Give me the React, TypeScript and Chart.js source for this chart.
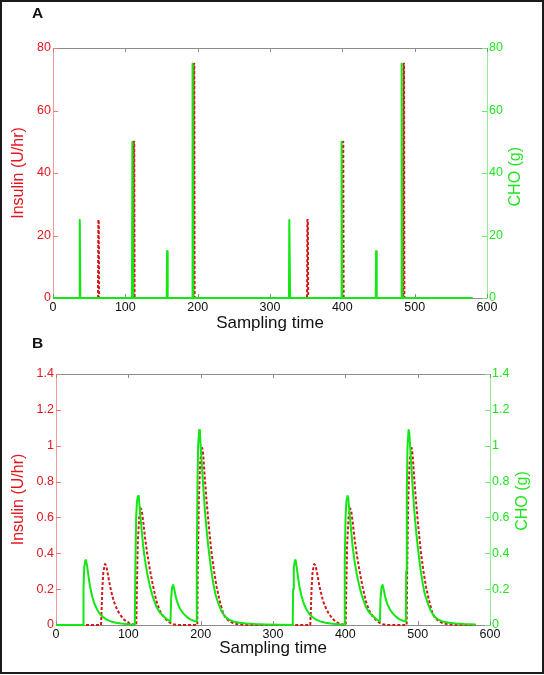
import React, { useEffect, useRef } from 'react';
import { Chart, registerables } from 'chart.js';

Chart.register(...registerables);

const FONT = "'Liberation Sans', Arial, Helvetica, sans-serif";
const RED_TEXT = '#e3161e';
const RED_LINE = '#d21a1a';
const GREEN_TEXT = '#1ee61e';
const GREEN_LINE = '#12e812';
const GREY = '#8c8c8c';

// ---------- shared x axis ----------
const xTicks = [0, 100, 200, 300, 400, 500, 600];

// ---------- Panel A : bolus inputs ----------
const choTimesA = [37, 110, 158, 193, 327, 399, 447, 482];
const choGramsA = [25, 50, 15, 75, 25, 50, 15, 75];
const insulinTimesA = [63, 112, 195, 352, 401, 485];
const insulinDoseA = [25, 50, 75, 25, 50, 75];
const endTimeA = 580;
const yTicksA = [0, 20, 40, 60, 80];
const yTickLabelsA = ['0', '20', '40', '60', '80'];

// ---------- Panel B : absorbed / delivered curves ----------
const yTicksB = [0, 0.2, 0.4, 0.6, 0.8, 1, 1.2, 1.4];
const yTickLabelsB = ['0', '0.2', '0.4', '0.6', '0.8', '1', '1.2', '1.4'];
const choCurveB: [number, number][] = [
  [0, 0], [37.5, 0], [38, 0.2], [39, 0.32], [40.5, 0.36], [41.5, 0.362], [43, 0.33], [45, 0.27],
  [47, 0.215], [50, 0.16], [53, 0.12], [57, 0.085], [61, 0.06], [65, 0.045], [70, 0.03], [76, 0.02],
  [83, 0.013], [90, 0.008], [100, 0.004], [109, 0.002],
  [109.8, 0.35], [110.8, 0.6], [112, 0.69], [113.5, 0.72], [114.5, 0.71], [116, 0.64], [118.4, 0.53],
  [120.5, 0.44], [123, 0.363], [126, 0.29], [129.9, 0.214], [134, 0.155], [139, 0.1], [143.5, 0.07],
  [148.3, 0.05], [153, 0.033], [158.3, 0.02],
  [159.2, 0.15], [160.5, 0.21], [162, 0.223], [163.5, 0.2], [166, 0.15], [169, 0.112], [172, 0.088],
  [175.9, 0.065], [180, 0.048], [185, 0.033], [190, 0.024], [194.2, 0.019],
  [194.6, 0.3], [195.5, 0.75], [196.5, 1.0], [198, 1.088], [199, 1.07], [200, 1.0], [201.3, 0.92],
  [203.6, 0.77], [206, 0.63], [208.2, 0.53], [210.5, 0.44], [212.8, 0.363], [215, 0.295], [217.4, 0.233],
  [220.5, 0.17], [224.3, 0.121], [228.5, 0.08], [233.5, 0.047], [239, 0.03], [245, 0.02], [254, 0.012],
  [263, 0.008], [275, 0.005], [290, 0.003], [310, 0.001], [327.3, 0],
  [327.8, 0.2], [328.8, 0.32], [330.3, 0.36], [331.2, 0.362], [332.5, 0.33], [334.5, 0.27], [336.5, 0.215],
  [339.5, 0.16], [342.5, 0.12], [346.5, 0.085], [350.5, 0.06], [354.5, 0.045], [359.5, 0.03], [365.5, 0.02],
  [372.5, 0.013], [379.5, 0.008], [389.5, 0.004], [398.8, 0.002],
  [399.2, 0.35], [400.3, 0.6], [401.5, 0.69], [403, 0.72], [404, 0.71], [405.5, 0.64], [408, 0.53],
  [410, 0.44], [412.5, 0.363], [415.5, 0.29], [419.5, 0.214], [423.5, 0.155], [428.5, 0.1], [433, 0.07],
  [438, 0.05], [442.5, 0.033], [447.8, 0.02],
  [448.7, 0.15], [450, 0.21], [451.5, 0.223], [453, 0.2], [455.5, 0.15], [458.5, 0.112], [461.5, 0.088],
  [465.5, 0.065], [469.5, 0.048], [474.5, 0.033], [479.5, 0.024], [483.7, 0.019],
  [484.1, 0.3], [485, 0.75], [486, 1.0], [487.5, 1.088], [488.5, 1.07], [489.5, 1.0], [490.8, 0.92],
  [493, 0.77], [495.5, 0.63], [497.7, 0.53], [500, 0.44], [502.3, 0.363], [504.5, 0.295], [507, 0.233],
  [510, 0.17], [514, 0.121], [518, 0.08], [523, 0.047], [528.5, 0.03], [534.5, 0.02], [543.5, 0.012],
  [552.5, 0.008], [564.5, 0.005], [580, 0.003],
];
const insulinCurveB: [number, number][] = [
  [0, 0], [62.2, 0], [63, 0.08], [64, 0.2], [65.5, 0.3], [67.7, 0.34], [69, 0.333], [70.5, 0.31],
  [72.3, 0.27], [74.5, 0.22], [77, 0.177], [80, 0.13], [83.8, 0.093], [87, 0.068], [90.7, 0.046],
  [94, 0.03], [97.6, 0.019], [101, 0.01], [105, 0.004], [110, 0.001],
  [111, 0.001], [111.8, 0.2], [113, 0.45], [115, 0.6], [117, 0.651], [118.5, 0.64], [120.5, 0.58],
  [123, 0.49], [126, 0.4], [129.9, 0.307], [134, 0.22], [139, 0.13], [143.5, 0.08], [148, 0.05],
  [153, 0.027], [158, 0.012], [162, 0.004], [168, 0],
  [195.3, 0], [196, 0.3], [197.5, 0.7], [199.5, 0.92], [202.2, 0.987], [203.5, 0.95], [205.9, 0.81],
  [208, 0.7], [210.5, 0.586], [212.8, 0.49], [215.1, 0.4], [218.5, 0.3], [222, 0.214], [226, 0.14],
  [231, 0.065], [235, 0.038], [240, 0.02], [245, 0.01], [252, 0.004], [262, 0],
  [351.5, 0], [352.3, 0.08], [353.3, 0.2], [354.8, 0.3], [357, 0.34], [358.5, 0.333], [360, 0.31],
  [361.8, 0.27], [364, 0.22], [366.5, 0.177], [369.5, 0.13], [373.3, 0.093], [376.5, 0.068],
  [380.2, 0.046], [383.5, 0.03], [387, 0.019], [390.5, 0.01], [394.5, 0.004], [399.5, 0.001],
  [400.5, 0.001], [401.3, 0.2], [402.5, 0.45], [404.5, 0.6], [406.5, 0.651], [408, 0.64], [410, 0.58],
  [412.5, 0.49], [415.5, 0.4], [419.4, 0.307], [423.5, 0.22], [428.5, 0.13], [433, 0.08], [437.5, 0.05],
  [442.5, 0.027], [447.5, 0.012], [451.5, 0.004], [457.5, 0],
  [484.8, 0], [485.5, 0.3], [487, 0.7], [489, 0.92], [491.7, 0.987], [493, 0.95], [495.4, 0.81],
  [497.5, 0.7], [500, 0.586], [502.3, 0.49], [504.6, 0.4], [508, 0.3], [511.5, 0.214], [515.5, 0.14],
  [520.5, 0.065], [524.5, 0.038], [529.5, 0.02], [534.5, 0.01], [541.5, 0.004], [551.5, 0], [580, 0],
];

function spikeSeries(times: number[], values: number[], end: number) {
  const pts: { x: number; y: number }[] = [{ x: 0, y: 0 }];
  times.forEach((t, i) => {
    pts.push({ x: t - 0.8, y: 0 }, { x: t - 0.3, y: values[i] }, { x: t + 0.3, y: values[i] }, { x: t + 0.8, y: 0 });
  });
  pts.push({ x: end, y: 0 });
  return pts;
}
const pairs = (arr: [number, number][]) => arr.map(([x, y]) => ({ x, y }));

const framePlugin = {
  id: 'frame',
  beforeDatasetsDraw(chart: any) {
    const { ctx, chartArea } = chart;
    const { left, right, top, bottom } = chartArea;
    const xs = chart.scales.x, ys = chart.scales.y, ys2 = chart.scales.y2;
    ctx.save();
    ctx.lineWidth = 1;
    ctx.strokeStyle = GREY;
    ctx.beginPath();
    ctx.moveTo(left, Math.round(top) + 0.5);
    ctx.lineTo(right, Math.round(top) + 0.5);
    xs.ticks.forEach((_t: any, i: number) => {
      const px = Math.round(xs.getPixelForTick(i)) + 0.5;
      ctx.moveTo(px, top); ctx.lineTo(px, top + 4);
      ctx.moveTo(px, bottom); ctx.lineTo(px, bottom - 4);
    });
    ctx.stroke();
    ctx.strokeStyle = '#f07a7a';
    ctx.beginPath();
    ys.ticks.forEach((_t: any, i: number) => {
      const py = Math.round(ys.getPixelForTick(i)) + 0.5;
      ctx.moveTo(left, py); ctx.lineTo(left + 5, py);
    });
    ctx.stroke();
    ctx.strokeStyle = '#70e870';
    ctx.beginPath();
    ys2.ticks.forEach((_t: any, i: number) => {
      const py = Math.round(ys2.getPixelForTick(i)) + 0.5;
      ctx.moveTo(right, py); ctx.lineTo(right - 5, py);
    });
    ctx.stroke();
    ctx.restore();
  },
  afterDraw(chart: any, _args: any, opts: any) {
    const { ctx, chartArea } = chart;
    ctx.save();
    ctx.fillStyle = '#111';
    ctx.font = `bold 15.5px ${FONT}`;
    ctx.textAlign = 'left';
    ctx.textBaseline = 'alphabetic';
    ctx.fillText(opts.letter, 32, opts.letterY);
    ctx.translate(chartArea.right + opts.titleDX, (chartArea.top + chartArea.bottom) / 2 + opts.titleDY);
    ctx.rotate(-Math.PI / 2);
    ctx.textAlign = 'center';
    ctx.fillStyle = GREEN_TEXT;
    ctx.font = `16px ${FONT}`;
    ctx.fillText(opts.rightTitle, 0, 0);
    ctx.restore();
  },
};

type PanelProps = {
  cho: { x: number; y: number }[];
  ins: { x: number; y: number }[];
  yTicks: number[];
  yTickLabels: string[];
  top: number;
  xHeight: number;
  leftWidth: number;
  rightWidth: number;
  xTitlePad: number;
  letter: string;
  letterY: number;
  titleDX: number;
  titleDY: number;
  width: number;
  height: number;
  style: React.CSSProperties;
};

function Panel(p: PanelProps) {
  const ref = useRef<HTMLCanvasElement | null>(null);
  useEffect(() => {
    if (!ref.current) return;
    const tickFont = { family: FONT, size: 12.5 };
    const yMax = p.yTicks[p.yTicks.length - 1];
    const setYTicks = (s: any) => { s.ticks = p.yTicks.map((v) => ({ value: v })); };
    const yLabel = (_v: any, i: number) => p.yTickLabels[i];
    const chart = new Chart(ref.current, {
      type: 'line',
      data: {
        datasets: [
          {
            label: 'CHO (g)', data: p.cho, yAxisID: 'y2', borderColor: GREEN_LINE, borderWidth: 2,
            pointRadius: 0, tension: 0, clip: false as any, borderJoinStyle: 'round',
          },
          {
            label: 'Insulin (U/hr)', data: p.ins, yAxisID: 'y', borderColor: RED_LINE, borderWidth: 2,
            borderDash: [3, 2], pointRadius: 0, tension: 0, clip: false as any, borderJoinStyle: 'round',
          },
        ],
      },
      options: {
        responsive: false,
        animation: false,
        events: [],
        layout: { padding: { top: p.top, left: 0, right: 0, bottom: 0 } },
        plugins: {
          legend: { display: false },
          tooltip: { enabled: false },
          frame: {
            letter: p.letter, letterY: p.letterY, rightTitle: 'CHO (g)',
            titleDX: p.titleDX, titleDY: p.titleDY,
          },
        } as any,
        scales: {
          x: {
            type: 'linear', min: xTicks[0], max: xTicks[xTicks.length - 1],
            afterBuildTicks: (s: any) => { s.ticks = xTicks.map((v) => ({ value: v })); },
            ticks: { color: '#111', font: tickFont, padding: 2, maxRotation: 0, autoSkip: false, callback: (v: any) => String(v) },
            grid: { display: false, drawTicks: false },
            border: { display: true, color: GREY, width: 1 },
            title: { display: true, text: 'Sampling time', color: '#111', font: { family: FONT, size: 17 }, padding: { top: 0, bottom: p.xTitlePad } },
            afterFit: (s: any) => { s.height = p.xHeight; },
          },
          y: {
            type: 'linear', position: 'left', min: 0, max: yMax,
            afterBuildTicks: setYTicks,
            ticks: { color: RED_TEXT, font: tickFont, padding: 2, callback: yLabel },
            grid: { display: false, drawTicks: false },
            border: { display: true, color: '#f39a9a', width: 1 },
            title: { display: true, text: 'Insulin (U/hr)', color: RED_TEXT, font: { family: FONT, size: 16 }, padding: { top: 9.4, bottom: 0 } },
            afterFit: (s: any) => { s.width = p.leftWidth; },
          },
          y2: {
            type: 'linear', position: 'right', min: 0, max: yMax,
            afterBuildTicks: setYTicks,
            ticks: { color: GREEN_TEXT, font: tickFont, padding: 2, callback: yLabel },
            grid: { display: false, drawTicks: false },
            border: { display: true, color: '#8ef08e', width: 1 },
            afterFit: (s: any) => { s.width = p.rightWidth; },
          },
        } as any,
      },
      plugins: [framePlugin as any],
    });
    return () => chart.destroy();
  }, []);
  return <canvas ref={ref} width={p.width} height={p.height} style={p.style} />;
}

export default function App() {
  const choA = spikeSeries(choTimesA, choGramsA, endTimeA);
  const insA = spikeSeries(insulinTimesA, insulinDoseA, endTimeA);
  const choB = pairs(choCurveB);
  const insB = pairs(insulinCurveB);
  return (
    <div style={{ position: 'absolute', left: 0, top: 0, width: 544, height: 675, background: '#fff' }}>
      <Panel
        cho={choA} ins={insA} yTicks={yTicksA} yTickLabels={yTickLabelsA}
        top={48} xHeight={39} leftWidth={53} rightWidth={57} xTitlePad={3.3}
        letter="A" letterY={18} titleDX={33} titleDY={3.7}
        width={544} height={337}
        style={{ position: 'absolute', left: 0, top: 0 }}
      />
      <Panel
        cho={choB} ins={insB} yTicks={yTicksB} yTickLabels={yTickLabelsB}
        top={37} xHeight={50} leftWidth={56} rightWidth={54} xTitlePad={16.3}
        letter="B" letterY={11} titleDX={37} titleDY={1.5}
        width={544} height={338}
        style={{ position: 'absolute', left: 0, top: 337 }}
      />
      <div
        style={{
          position: 'absolute', left: 0, top: 0, width: 544, height: 674,
          border: '2px solid #1a1a1a', boxSizing: 'border-box', pointerEvents: 'none',
        }}
      />
    </div>
  );
}
